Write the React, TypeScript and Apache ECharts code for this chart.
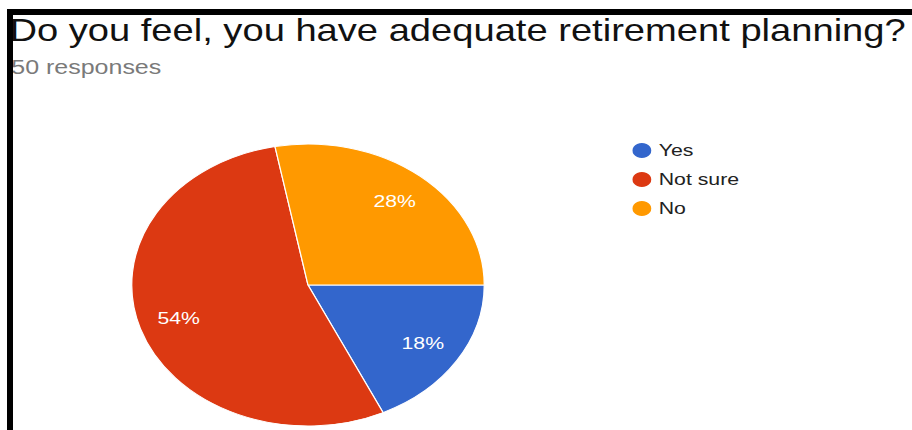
import React, { useEffect, useRef } from "react";
import * as echarts from "echarts";

const categories = ["Yes", "Not sure", "No"];
const responses = [9, 27, 14];
const sliceColors = ["#3366CC", "#DC3912", "#FF9900"];
const titleText = "Do you feel, you have adequate retirement planning?";
const subtitleText = "50 responses";

const STRETCH = 1.25;
const PAGE_W = 912;
const PAGE_H = 430;
const FONT = "Arial, 'Liberation Sans', sans-serif";

export default function App() {
  const ref = useRef<HTMLDivElement>(null);

  useEffect(() => {
    if (!ref.current) return;
    const chart = echarts.init(ref.current, null, { renderer: "svg" });
    const data = categories.map((name, i) => ({
      name,
      value: responses[i],
      itemStyle: { color: sliceColors[i] },
    }));
    const labelData = categories.map((name, i) => ({
      name,
      value: responses[i],
      itemStyle: { color: "rgba(0,0,0,0)" },
    }));
    const center = [246.4, 285];
    const R = 141;
    chart.setOption({
      animation: false,
      backgroundColor: "#ffffff",
      title: [
        {
          text: titleText,
          left: 2.5,
          top: 10,
          textStyle: { fontFamily: FONT, fontSize: 30.5, fontWeight: "normal", color: "#111111" },
        },
        {
          text: subtitleText,
          left: 4,
          top: 52,
          textStyle: { fontFamily: FONT, fontSize: 20, fontWeight: "normal", color: "#7a7a7a" },
        },
      ],
      legend: {
        orient: "vertical",
        left: 499,
        top: 136,
        icon: "circle",
        itemWidth: 17,
        itemHeight: 17,
        itemGap: 10,
        data: categories,
        textStyle: { fontFamily: FONT, fontSize: 17, lineHeight: 17, color: "#222222" },
      },
      series: [
        {
          type: "pie",
          center,
          radius: [0, R],
          startAngle: 0,
          clockwise: true,
          data,
          label: { show: false },
          labelLine: { show: false },
          itemStyle: { borderColor: "#ffffff", borderWidth: 1 },
          emphasis: { disabled: true },
        },
        {
          type: "pie",
          center,
          radius: [R / 2, R],
          startAngle: 0,
          clockwise: true,
          data: labelData,
          silent: true,
          legendHoverLink: false,
          label: {
            show: true,
            position: "inside",
            formatter: (p: any) => Math.round(p.percent) + "%",
            fontFamily: FONT,
            fontSize: 17,
            color: "#ffffff",
          },
          labelLine: { show: false },
          emphasis: { disabled: true },
        },
      ],
    });
    return () => chart.dispose();
  }, []);

  return (
    <div
      style={{
        position: "fixed",
        left: 0,
        top: 0,
        width: PAGE_W,
        height: PAGE_H,
        overflow: "hidden",
        background: "#ffffff",
      }}
    >
      <div
        ref={ref}
        style={{
          position: "absolute",
          left: 0,
          top: 0,
          width: PAGE_W / STRETCH,
          height: PAGE_H,
          transform: `scaleX(${STRETCH})`,
          transformOrigin: "0 0",
        }}
      />
      <div style={{ position: "absolute", left: 7, top: 9, width: 6, height: PAGE_H - 9, background: "#000" }} />
      <div style={{ position: "absolute", left: 7, top: 9, width: PAGE_W - 7, height: 6, background: "#000" }} />
    </div>
  );
}
